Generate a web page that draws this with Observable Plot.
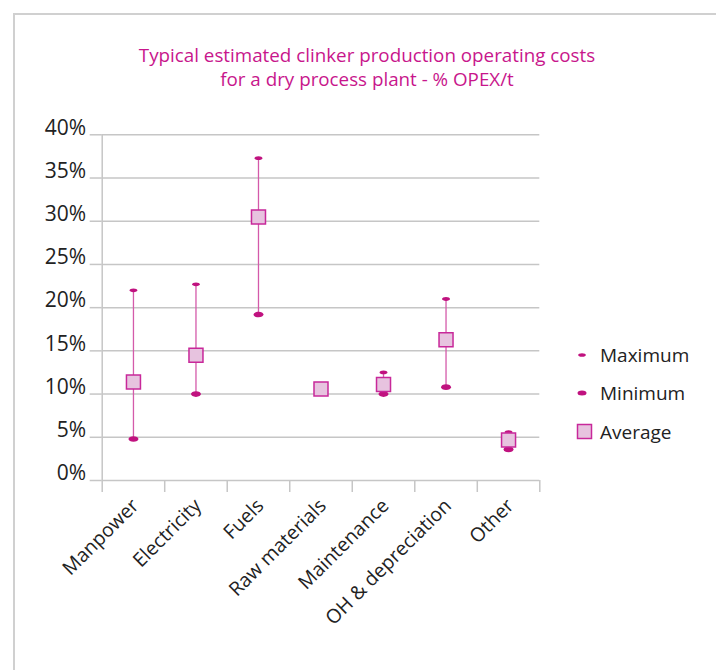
<!DOCTYPE html>
<html><head><meta charset="utf-8">
<script src="https://cdn.jsdelivr.net/npm/d3@7"></script>
<script src="https://cdn.jsdelivr.net/npm/@observablehq/plot@0.6"></script>
<style>
html,body{margin:0;padding:0;background:#fff;overflow:hidden;width:716px;height:670px;position:relative}
#frame{position:absolute;left:13px;top:13px;width:800px;height:800px;border:2px solid #d0d0d0;box-sizing:border-box}
#title{position:absolute;left:0;width:734px;top:43px;text-align:center;color:#c8168c;font:400 18.8px "Open Sans";line-height:24px}
#chart{position:absolute;left:0;top:100px}
.lg{position:absolute;left:572px;height:24px;line-height:24px;font:19px "Open Sans";color:#222;display:flex;align-items:center}
.lg svg{width:28px;height:24px;flex:none}
</style></head>
<body>
<div id="frame"></div>
<div id="title">Typical estimated clinker production operating costs<br>for a dry process plant - % OPEX/t</div>
<div id="chart"></div>
<div class="lg" style="top:343px"><svg><ellipse cx="10" cy="12" rx="3.8" ry="1.8" fill="#c0127f"/></svg>Maximum</div>
<div class="lg" style="top:381px"><svg><ellipse cx="10" cy="12" rx="4.5" ry="2.5" fill="#c0127f"/></svg>Minimum</div>
<div class="lg" style="top:420px"><svg><rect x="5.5" y="4.5" width="14" height="14" fill="#e7c3df" stroke="#c8289a" stroke-width="1.5"/></svg>Average</div>
<script>
const categories = ["Manpower","Electricity","Fuels","Raw materials","Maintenance","OH & depreciation","Other"];
const maximum = [22.0, 22.7, 37.3, null, 12.5, 21.0, 5.6];
const minimum = [4.8, 10.0, 19.2, null, 10.0, 10.8, 3.6];
const average = [11.4, 14.5, 30.5, 10.6, 11.1, 16.3, 4.7];
const yTicks = [0, 5, 10, 15, 20, 25, 30, 35, 40];

const data = categories.map((c, i) => ({cat: c, pos: i + 0.5, max: maximum[i], min: minimum[i], avg: average[i]}));
const ranges = data.filter(d => d.max != null);
const boundaries = d3.range(0, categories.length + 1);
const centers = data.map(d => d.pos);

function ellipseSymbol(rx, ry) {
  const k = 0.5523;
  return {draw(ctx) {
    ctx.moveTo(rx, 0);
    ctx.bezierCurveTo(rx, ry * k, rx * k, ry, 0, ry);
    ctx.bezierCurveTo(-rx * k, ry, -rx, ry * k, -rx, 0);
    ctx.bezierCurveTo(-rx, -ry * k, -rx * k, -ry, 0, -ry);
    ctx.bezierCurveTo(rx * k, -ry, rx, -ry * k, rx, 0);
    ctx.closePath();
  }};
}

const grey = "#c6c6c6";
const chart = Plot.plot({
  width: 716, height: 570,
  marginLeft: 101.7, marginRight: 176.7, marginTop: 34.3, marginBottom: 190,
  x: {type: "linear", domain: [0, categories.length]},
  y: {domain: [0, 40]},
  style: {fontFamily: "Open Sans", fontSize: "17px", color: "#222", background: "transparent"},
  marks: [
    Plot.gridY(yTicks, {stroke: grey, strokeOpacity: 1, strokeWidth: 1.5}),
    Plot.axisY(yTicks, {tickSize: 12, stroke: grey, strokeWidth: 1.5, tickFormat: () => "", label: null}),
    Plot.axisY(yTicks, {tickSize: 0, tickPadding: 16, dy: -7, tickFormat: d => d + "%", fontSize: 21, label: null}),
    Plot.ruleX([0], {stroke: grey, strokeWidth: 1.5}),
    Plot.axisX(boundaries, {tickSize: 12, stroke: grey, strokeWidth: 1.5, tickFormat: () => "", label: null}),
    Plot.axisX(centers, {tickSize: 0, tickPadding: 22, tickRotate: -45, tickFormat: d => categories[Math.floor(d)], fontSize: 19.5, label: null, dx: 2}),
    Plot.ruleX(ranges, {x: "pos", y1: "min", y2: "max", stroke: "#d45aaa", strokeWidth: 1.3}),
    Plot.dot(ranges, {x: "pos", y: "max", symbol: ellipseSymbol(4, 1.9), fill: "#c0127f", stroke: "none"}),
    Plot.dot(ranges, {x: "pos", y: "min", symbol: ellipseSymbol(5, 2.8), fill: "#c0127f", stroke: "none"}),
    Plot.dot(data, {x: "pos", y: "avg", symbol: "square", r: 7.9, fill: "#e7c3df", stroke: "#c8289a", strokeWidth: 1.5})
  ]
});
document.getElementById("chart").appendChild(chart);
</script>
</body></html>
